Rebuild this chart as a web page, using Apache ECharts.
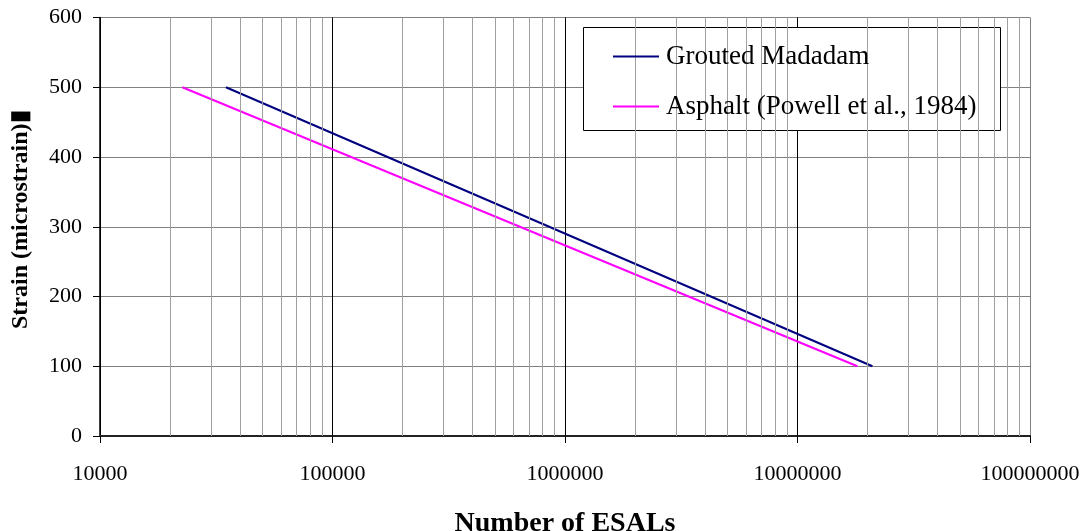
<!DOCTYPE html>
<html>
<head>
<meta charset="utf-8">
<script src="https://cdn.jsdelivr.net/npm/echarts@6/dist/echarts.min.js"></script>
<style>html,body{margin:0;padding:0;background:#fff}#c{width:1086px;height:531px}</style>
</head>
<body>
<div id="c"></div>
<script>
// Data
const seriesNames = ['Grouted Madadam', 'Asphalt (Powell et al., 1984)'];
const groutedESALs = [34800, 21000000];
const groutedStrain = [500, 100];
const asphaltESALs = [22600, 18100000];
const asphaltStrain = [500, 100];
const xTickLabels = ['10000', '100000', '1000000', '10000000', '100000000'];
const yTicks = [0, 100, 200, 300, 400, 500, 600];
const decades = [10000, 100000, 1000000, 10000000];
const minorMultipliers = [2, 3, 4, 5, 6, 7, 8, 9];

const minorValues = [];
decades.forEach(d => minorMultipliers.forEach(m => minorValues.push(d * m)));

const FONT = 'Liberation Serif';
const chart = echarts.init(document.getElementById('c'), null, {renderer: 'canvas'});
chart.setOption({
  animation: false,
  backgroundColor: '#fff',
  textStyle: {fontFamily: FONT, color: '#000'},
  grid: {left: 100, right: 56, top: 17.5, bottom: 95, containLabel: false, outerBoundsMode: 'none'},
  legend: {
    orient: 'vertical', left: 613, top: 43, padding: 0, z: 10,
    itemWidth: 46, itemHeight: 2, itemGap: 23, icon: 'rect',
    textStyle: {fontFamily: FONT, fontSize: 27, color: '#000', lineHeight: 27, padding: [0, 0, 0, 2]},
    data: seriesNames
  },
  graphic: [{
    type: 'rect', z: 5, left: 583, top: 27,
    shape: {width: 417, height: 103},
    style: {fill: '#fff', stroke: '#000', lineWidth: 1}
  }],
  xAxis: {
    type: 'log', logBase: 10, min: 10000, max: 100000000,
    name: 'Number of ESALs', nameLocation: 'middle', nameGap: 74,
    nameTextStyle: {fontFamily: FONT, fontSize: 28, fontWeight: 'bold', color: '#000'},
    axisLine: {show: true, onZero: false, lineStyle: {color: '#222', width: 2}},
    axisTick: {show: true, inside: false, length: 7, lineStyle: {color: '#000', width: 1}},
    axisLabel: {
      fontFamily: FONT, fontSize: 22, color: '#000', margin: 27,
      formatter: v => xTickLabels[Math.round(Math.log10(v)) - 4]
    },
    splitLine: {show: true, lineStyle: {color: ['#000', '#000', '#000', '#000', '#808080'], width: 1}},
    minorTick: {show: false}
  },
  yAxis: {
    type: 'value', min: yTicks[0], max: yTicks[yTicks.length - 1], interval: 100,
    name: 'Strain (microstrain)\u25AE', nameLocation: 'middle', nameGap: 67, nameRotate: 90,
    nameTextStyle: {fontFamily: FONT, fontSize: 24, fontWeight: 'bold', color: '#000', padding: [0, 0, 0, 14]},
    axisLine: {show: true, lineStyle: {color: '#000', width: 1.5}},
    axisTick: {show: true, length: 7, lineStyle: {color: '#000'}},
    axisLabel: {fontFamily: FONT, fontSize: 22, color: '#000', margin: 18},
    splitLine: {show: true, lineStyle: {color: '#808080', width: 1}}
  },
  series: [
    {
      name: 'minor', type: 'line', data: [], silent: true, z: 1,
      markLine: {
        silent: true, symbol: ['none', 'none'], animation: false,
        label: {show: false},
        lineStyle: {color: '#a0a0a0', width: 1, type: 'solid'},
        emphasis: {disabled: true},
        data: minorValues.map(v => ({xAxis: v}))
      }
    },
    {
      name: seriesNames[0], type: 'line', showSymbol: false, symbol: 'none', z: 3,
      lineStyle: {color: '#000080', width: 2}, itemStyle: {color: '#000080'},
      data: groutedESALs.map((x, i) => [x, groutedStrain[i]])
    },
    {
      name: seriesNames[1], type: 'line', showSymbol: false, symbol: 'none', z: 3,
      lineStyle: {color: '#ff00ff', width: 2}, itemStyle: {color: '#ff00ff'},
      data: asphaltESALs.map((x, i) => [x, asphaltStrain[i]])
    }
  ]
});
</script>
</body>
</html>
